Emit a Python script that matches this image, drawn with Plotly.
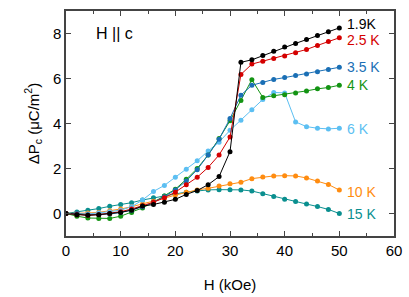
import plotly.graph_objects as go

H = [0, 2, 4, 6, 8, 10, 12, 14, 16, 18, 20, 22, 24, 26, 28, 30, 32, 34, 36, 38, 40, 42, 44, 46, 48, 50]

P_1p9K = [0, -0.05, -0.08, -0.05, 0.0, 0.05, 0.15, 0.33, 0.40, 0.50, 0.63, 0.85, 1.02, 1.28, 1.64, 2.75,
          6.72, 6.83, 7.02, 7.21, 7.40, 7.56, 7.73, 7.91, 8.08, 8.25]
P_2p5K = [0, -0.05, -0.08, -0.05, 0.0, 0.08, 0.20, 0.35, 0.50, 0.70, 0.95, 1.28, 1.61, 2.05, 2.60, 3.40,
          6.18, 6.64, 6.77, 6.89, 7.00, 7.15, 7.29, 7.47, 7.64, 7.81]
P_3p5K = [0, 0.0, -0.05, -0.05, -0.02, 0.05, 0.15, 0.30, 0.50, 0.75, 1.05, 1.45, 1.95, 2.60, 3.30, 4.22,
          5.26, 5.70, 5.82, 5.96, 6.04, 6.13, 6.20, 6.30, 6.40, 6.50]
P_4K = [0, -0.12, -0.20, -0.22, -0.22, -0.12, 0.05, 0.25, 0.50, 0.78, 1.08, 1.52, 2.00, 2.60, 3.33, 4.12,
        5.02, 5.95, 5.16, 5.23, 5.28, 5.36, 5.45, 5.54, 5.60, 5.70]
P_6K = [0, -0.03, -0.02, 0.02, 0.08, 0.15, 0.30, 0.60, 0.98, 1.25, 1.61, 1.97, 2.34, 2.78, 3.17, 3.70,
        4.14, 4.61, 5.07, 5.38, 5.36, 4.07, 3.86, 3.79, 3.76, 3.79]
P_10K = [0, 0.0, 0.02, 0.05, 0.12, 0.20, 0.30, 0.42, 0.55, 0.68, 0.82, 0.95, 1.05, 1.12, 1.22, 1.32,
         1.39, 1.55, 1.62, 1.67, 1.68, 1.67, 1.58, 1.45, 1.29, 1.04]
P_15K = [0, 0.07, 0.15, 0.22, 0.32, 0.40, 0.48, 0.60, 0.70, 0.78, 0.87, 0.95, 1.00, 1.05, 1.06, 1.06,
         1.05, 1.00, 0.88, 0.76, 0.63, 0.53, 0.42, 0.31, 0.18, 0.0]

series = [
    ("15 K", P_15K, "#0a8f8f", 0.0),
    ("10 K", P_10K, "#ff8c10", 0.95),
    ("6 K", P_6K, "#5cbff2", 3.76),
    ("4 K", P_4K, "#139413", 5.7),
    ("3.5 K", P_3p5K, "#1a6fb5", 6.5),
    ("2.5 K", P_2p5K, "#d40000", 7.7),
    ("1.9K", P_1p9K, "#000000", 8.42),
]

FONT = "Liberation Sans, Arial"

fig = go.Figure()
for name, vals, color, ly in series:
    fig.add_trace(go.Scatter(x=H, y=vals, mode="lines+markers", name=name,
                             line=dict(color=color, width=1),
                             marker=dict(color=color, size=5)))
    fig.add_annotation(x=51.0, y=ly, text=name, showarrow=False, xanchor="left", yanchor="middle",
                       font=dict(color=color, size=14, family=FONT))

fig.add_annotation(x=0.085, y=0.9, xref="paper", yref="paper", text="H || c", showarrow=False,
                   xanchor="left", yanchor="middle", font=dict(size=16, color="black", family=FONT))

axis_common = dict(showline=True, linecolor="#444", linewidth=1.5, mirror="ticks", ticks="inside",
                   ticklen=5, tickcolor="#444", showgrid=False, zeroline=False, automargin=False,
                   tickfont=dict(size=15, color="black", family=FONT))

fig.update_xaxes(range=[0, 60], dtick=10,
                 title=dict(text="H (kOe)", font=dict(size=15, color="black", family=FONT), standoff=22),
                 minor=dict(ticks="inside", dtick=5, ticklen=3, tickcolor="#444"), **axis_common)
fig.update_yaxes(range=[-1, 9], dtick=2,
                 title=dict(text="ΔP<sub>c</sub> (μC/m<sup>2</sup>)", font=dict(size=15, color="black", family=FONT), standoff=10),
                 **axis_common)

fig.update_layout(width=409, height=297, margin=dict(l=66, r=15, t=11, b=61),
                  plot_bgcolor="white", paper_bgcolor="white", showlegend=False)

fig.write_html("out.html", config={"displayModeBar": False},
               post_script="document.body.style.margin='0';document.body.style.padding='0';")
